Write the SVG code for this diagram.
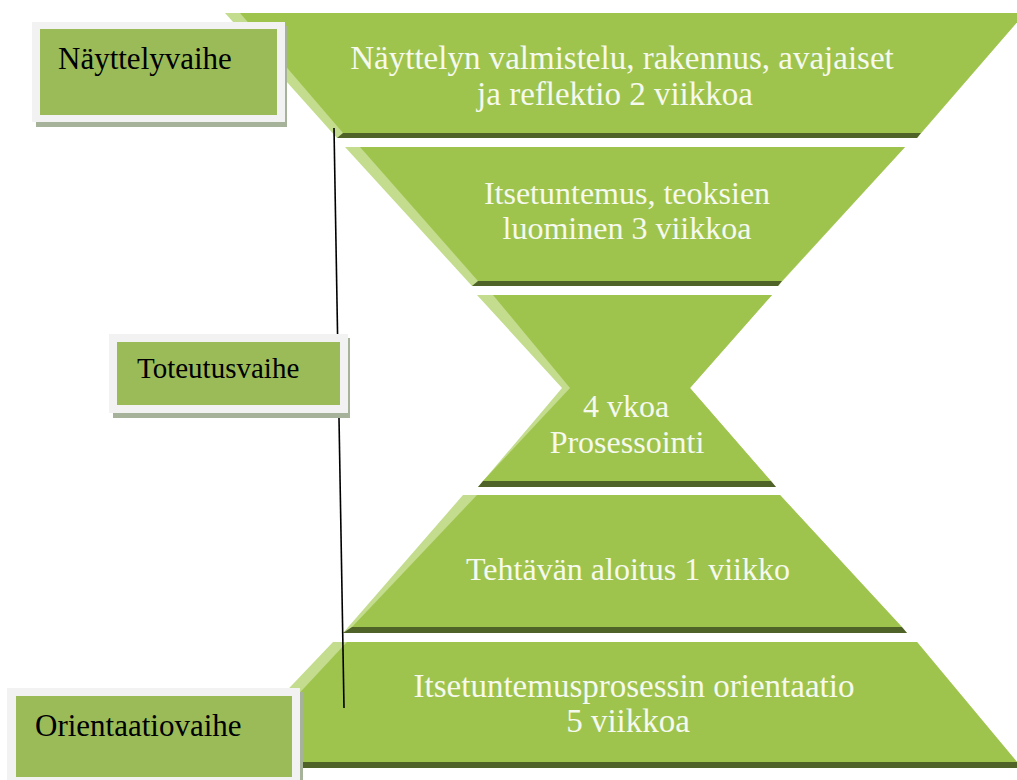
<svg xmlns="http://www.w3.org/2000/svg" width="1017" height="780" viewBox="0 0 1017 780">
<style>
.lite{fill:#c3dc8e}
.main{fill:#9fc44e}
.dark{fill:#4f6329}
.st{font-family:"Liberation Serif","Times New Roman",serif;font-size:33px;fill:#f6f9ee;text-anchor:middle}
.lt{font-family:"Liberation Serif","Times New Roman",serif;font-size:31px;fill:#000}
.frame{fill:#f2f2f2}
.shadow{fill:#a7b29a}
.inner{fill:#9bbb59}
.conn{stroke:#000;stroke-width:1.6;fill:none}
</style>
<rect width="1017" height="780" fill="#fff"/>
<g id="shape1">
<polygon class="lite" points="225,13 1025,13 917,138 337,138"/>
<polygon class="dark" points="337,138 343,133 921,133 917,138"/>
<polygon class="main" points="240,13 1025,13 921,133 343,133"/>
<text class="st" x="622" y="69">Näyttelyn valmistelu, rakennus, avajaiset</text>
<text class="st" x="615" y="105">ja reflektio 2 viikkoa</text>
</g>
<g id="shape2">
<polygon class="lite" points="345,147 905,147 778,286 472,286"/>
<polygon class="dark" points="472,286 478,281 782,281 778,286"/>
<polygon class="main" points="360,147 905,147 782,281 478,281"/>
<text class="st" x="627" y="204" style="font-size:32px">Itsetuntemus, teoksien</text>
<text class="st" x="627" y="239" style="font-size:32px">luominen 3 viikkoa</text>
</g>
<g id="shape3">
<polygon class="lite" points="477,295 772,295 690,388 776,487 478,487 562,388"/>
<polygon class="dark" points="478,487 483,481 771,481 776,487"/>
<polygon class="main" points="493,295 772,295 690,388 771,481 483,481 570,388"/>
<text class="st" x="626" y="417" style="font-size:32px">4 vkoa</text>
<text class="st" x="627" y="453" style="font-size:32px">Prosessointi</text>
</g>
<g id="shape4">
<polygon class="lite" points="463,495 780,495 907,633 343,633"/>
<polygon class="dark" points="343,633 352,627 902,627 907,633"/>
<polygon class="main" points="477,495 780,495 902,627 352,627"/>
<text class="st" x="628" y="580" style="font-size:32px">Tehtävän aloitus 1 viikko</text>
</g>
<g id="shape5">
<polygon class="lite" points="333,642 917,642 1022,768 213,768"/>
<polygon class="dark" points="213,768 221,762 1017,762 1022,768"/>
<polygon class="main" points="347,642 917,642 1017,762 235,762"/>
<text class="st" x="634" y="697">Itsetuntemusprosessin orientaatio</text>
<text class="st" x="628" y="732">5 viikkoa</text>
</g>
<g id="connectors">
<line class="conn" x1="334" y1="128" x2="344" y2="708"/>
</g>
<g id="label-nayttelyvaihe">
<rect class="shadow" x="36" y="26" width="251" height="101"/>
<rect class="frame" x="32" y="22" width="253" height="100"/>
<rect class="inner" x="40" y="29" width="237" height="86"/>
<text class="lt" x="58" y="69">Näyttelyvaihe</text>
</g>
<g id="label-toteutusvaihe">
<rect class="shadow" x="113" y="338" width="237" height="80"/>
<rect class="frame" x="109" y="334" width="239" height="79"/>
<rect class="inner" x="117" y="342" width="223" height="63"/>
<text class="lt" x="137" y="378" style="font-size:29px">Toteutusvaihe</text>
</g>
<g id="label-orientaatiovaihe">
<rect class="shadow" x="11" y="692" width="292" height="100"/>
<rect class="frame" x="7" y="688" width="293" height="100"/>
<rect class="inner" x="16" y="696" width="276" height="81"/>
<text class="lt" x="35" y="736">Orientaatiovaihe</text>
</g>
</svg>
